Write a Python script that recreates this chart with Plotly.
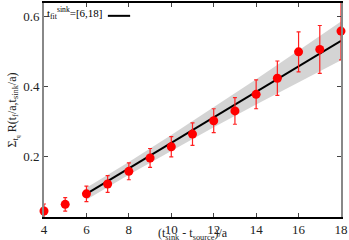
import plotly.graph_objects as go

t_sep = [4, 5, 6, 7, 8, 9, 10, 11, 12, 13, 14, 15, 16, 17, 18]
ratio = [0.045, 0.064, 0.094, 0.122, 0.158, 0.196, 0.228, 0.264, 0.302, 0.330, 0.377, 0.423, 0.498, 0.505, 0.557]
ratio_err = [0.020, 0.019, 0.022, 0.024, 0.024, 0.027, 0.029, 0.032, 0.034, 0.038, 0.041, 0.049, 0.057, 0.068, 0.082]

fit_x = [6, 18]
fit_y = [0.094, 0.529]
band_x = [6, 8, 10, 12, 14, 16, 18]
band_center = [0.094, 0.1665, 0.239, 0.3115, 0.384, 0.4565, 0.529]
band_half = [0.017, 0.018, 0.022, 0.028, 0.036, 0.045, 0.055]

band_upper = [c + h for c, h in zip(band_center, band_half)]
band_lower = [c - h for c, h in zip(band_center, band_half)]

FONT = "Liberation Serif, DejaVu Serif, serif"

fig = go.Figure()
fig.add_trace(go.Scatter(
    x=band_x + band_x[::-1], y=band_upper + band_lower[::-1],
    fill="toself", fillcolor="rgba(205,205,205,0.85)",
    line=dict(width=0), mode="lines", hoverinfo="skip", showlegend=False))
fig.add_trace(go.Scatter(
    x=fit_x, y=fit_y, mode="lines",
    line=dict(color="black", width=2), showlegend=False))
fig.add_trace(go.Scatter(
    x=t_sep, y=ratio, mode="markers",
    marker=dict(color="#ff0000", size=9),
    error_y=dict(type="data", array=ratio_err, color="#ff2020", thickness=1.2, width=2),
    cliponaxis=False, showlegend=False))

fig.add_annotation(
    xref="paper", yref="paper", x=0.005, y=1.0, xanchor="left", yanchor="top",
    text="t<sub>fit</sub><sup>sink</sup>=[6,18]", showarrow=False,
    font=dict(family=FONT, size=11, color="black"))
fig.add_shape(type="line", xref="paper", yref="paper",
              x0=0.215, x1=0.29, y0=0.94, y1=0.94,
              line=dict(color="black", width=2))
fig.add_annotation(
    xref="paper", yref="paper", x=0.5, y=-0.078, xanchor="center", yanchor="middle",
    text="(t<sub>sink</sub> - t<sub>source</sub>)/a", showarrow=False,
    font=dict(family=FONT, size=12, color="#222"))

fig.update_layout(
    width=349, height=240,
    margin=dict(l=44, r=8, t=1, b=23),
    plot_bgcolor="white", paper_bgcolor="white",
    font=dict(family=FONT, size=13, color="#222"),
)
fig.update_xaxes(
    range=[4, 18], tickvals=[4, 6, 8, 10, 12, 14, 16, 18],
    ticks="inside", ticklen=4, tickcolor="#444",
    showline=True, linecolor="black", linewidth=1.5, mirror="ticks",
    showgrid=False, zeroline=False,
)
fig.update_yaxes(
    range=[0.028, 0.637], tickvals=[0.2, 0.4, 0.6], ticktext=["0.2", "0.4", "0.6"],
    ticks="inside", ticklen=4, tickcolor="#444",
    showline=True, linecolor="#888888", linewidth=2, mirror="ticks",
    showgrid=False, zeroline=False,
    title=dict(text="Σ<sub>t<sub>q</sub></sub> R(t<sub>f</sub>/a,t<sub>sink</sub>/a)", standoff=4,
               font=dict(family=FONT, size=12)),
)

fig.write_html("out.html", config={"displayModeBar": False},
               post_script="document.body.style.margin='0';document.body.style.overflow='hidden';")
